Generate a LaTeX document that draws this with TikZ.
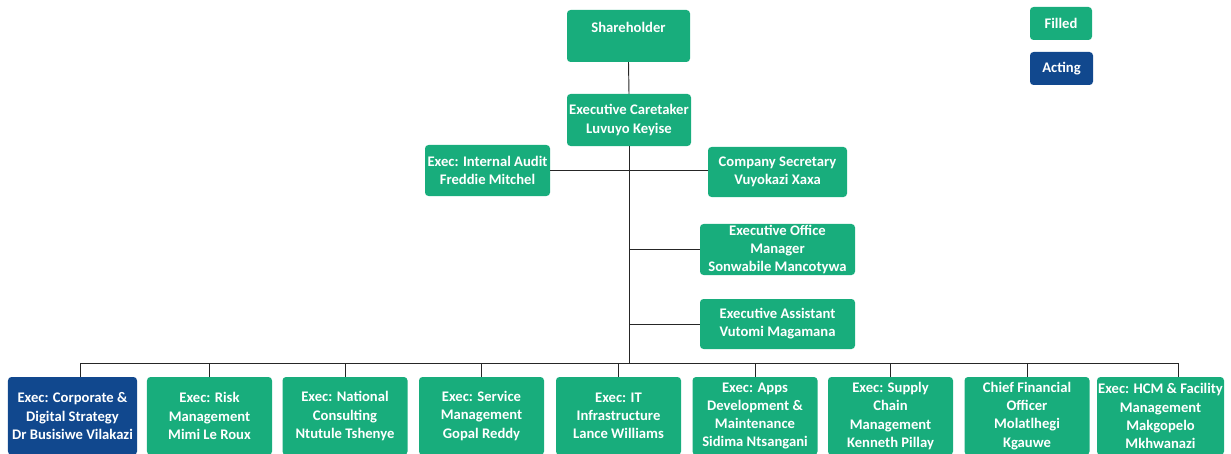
\documentclass[tikz,border=0pt]{standalone}
\usepackage{fontspec}
\setmainfont{Carlito}
\usetikzlibrary{positioning}

\definecolor{filled}{RGB}{24,173,124}
\definecolor{acting}{RGB}{17,72,142}

\tikzset{
    post/.style={fill=filled, text=white, rounded corners=3pt, align=center, inner sep=0pt,
                 font=\bfseries\fontsize{12.5}{15.5}\selectfont},
    actpost/.style={post, fill=acting},
    wire/.style={draw=black!85, line width=0.8pt}
}

\begin{document}
\begin{tikzpicture}[x=0.03cm,y=-0.03cm]

            % \draw [help lines] (0,0) grid (1231,454);
            \useasboundingbox (0,0) rectangle (1231,454);

            \path   (628.5,36) node (share) [post,minimum width=3.69cm,minimum height=1.56cm,text depth=1.5em] {Shareholder}
                    (629,120) node (care) [post,minimum width=3.72cm,minimum height=1.56cm] {Executive Caretaker\\Luvuyo Keyise}
                    (487.5,170.5) node (audit) [post,minimum width=3.75cm,minimum height=1.53cm] {Exec: Internal Audit\\Freddie Mitchel}
                    (777.5,172) node (secr) [post,minimum width=4.17cm,minimum height=1.5cm] {Company Secretary\\Vuyokazi Xaxa}
                    (777.5,249.5) node (office) [post,minimum width=4.65cm,minimum height=1.53cm] {Executive Office\\Manager\\Sonwabile Mancotywa}
                    (777.5,324) node (assist) [post,minimum width=4.65cm,minimum height=1.5cm] {Executive Assistant\\Vutomi Magamana};

            % legend
            \path   (1061,23.5) node (kfill) [post,minimum width=1.86cm,minimum height=0.99cm] {Filled}
                    (1061.5,68.5) node (kact) [actpost,minimum width=1.89cm,minimum height=0.99cm] {Acting};

            % bottom row
            \path   (72.5,416) node (corp) [actpost,minimum width=3.87cm,minimum height=2.34cm] {Exec: Corporate \&\\Digital Strategy\\Dr Busisiwe Vilakazi}
                    (209.5,416) node (risk) [post,minimum width=3.75cm,minimum height=2.34cm] {Exec: Risk\\Management\\Mimi Le Roux}
                    (345,416) node (natl) [post,minimum width=3.75cm,minimum height=2.34cm] {Exec: National\\Consulting\\Ntutule Tshenye}
                    (481.5,416) node (serv) [post,minimum width=3.75cm,minimum height=2.34cm] {Exec: Service\\Management\\Gopal Reddy}
                    (618.5,416) node (infra) [post,minimum width=3.75cm,minimum height=2.34cm] {Exec: IT\\Infrastructure\\Lance Williams}
                    (755,416) node (apps) [post,minimum width=3.75cm,minimum height=2.34cm] {Exec: Apps\\Development \&\\Maintenance\\Sidima Ntsangani}
                    (890.5,416) node (supply) [post,minimum width=3.75cm,minimum height=2.34cm] {Exec: Supply\\Chain\\Management\\Kenneth Pillay}
                    (1027,416) node (cfo) [post,minimum width=3.75cm,minimum height=2.34cm] {Chief Financial\\Officer\\Molatlhegi\\Kgauwe}
                    (1160.5,416) node (hcm) [post,minimum width=3.81cm,minimum height=2.34cm] {Exec: HCM \& Facility\\Management\\Makgopelo\\Mkhwanazi};

            \coordinate (bus) at (629,363);
            \coordinate (busL) at (80,363);
            \coordinate (busR) at (1178,363);

            \draw[wire] (share.south) -- (care.north);
            \draw[wire] (care.south) -- (bus);
            \draw[wire] (audit.east) -- (audit.east -| secr.west);
            \draw[wire] (care.south |- office.west) -- (office.west);
            \draw[wire] (care.south |- assist.west) -- (assist.west);
            \draw[wire] (busL) -- (busR);

            \draw[wire] (busL) -- (busL |- corp.north);
            \draw[wire] (bus -| risk.north) -- (risk.north);
            \draw[wire] (bus -| natl.north) -- (natl.north);
            \draw[wire] (bus -| serv.north) -- (serv.north);
            \draw[wire] (bus -| infra.north) -- (infra.north);
            \draw[wire] (bus -| apps.north) -- (apps.north);
            \draw[wire] (bus -| supply.north) -- (supply.north);
            \draw[wire] (bus -| cfo.north) -- (cfo.north);
            \draw[wire] (busR) -- (busR |- hcm.north);

\end{tikzpicture}
\end{document}
